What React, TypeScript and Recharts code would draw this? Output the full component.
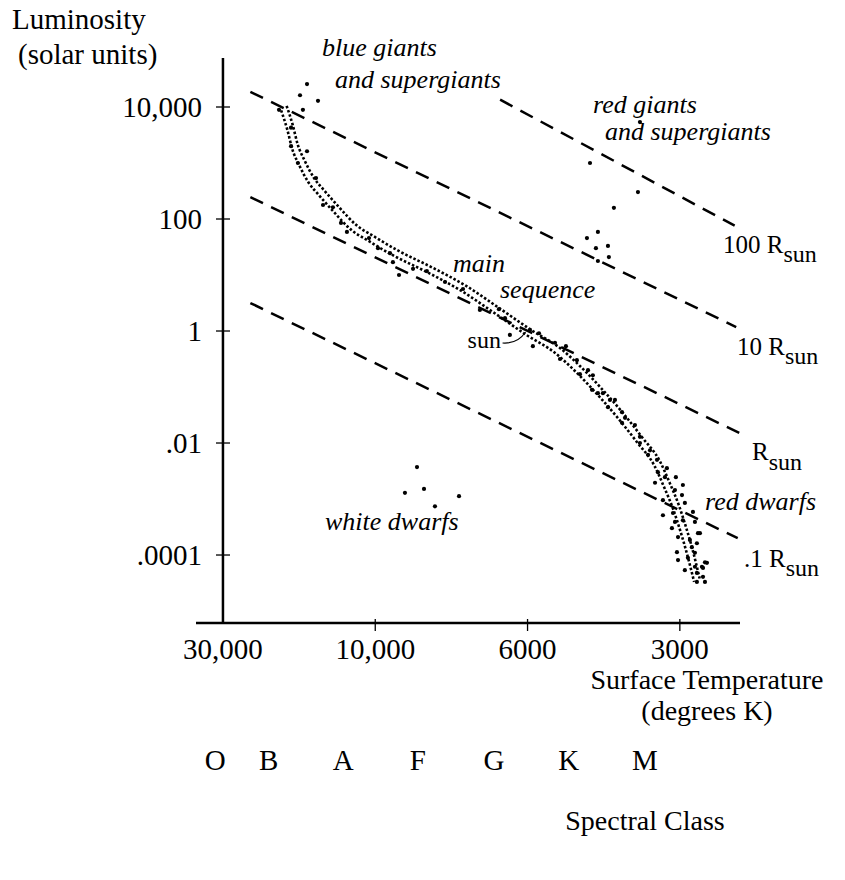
import React from 'react';
import {
  ComposedChart,
  XAxis,
  YAxis,
  Line,
  Scatter,
  ReferenceLine,
  ReferenceDot,
  Customized,
} from 'recharts';

const FONT = '"Liberation Serif", "Times New Roman", serif';

// x is the position on the temperature scale (0 = 30,000 K, 1 = 10,000 K, 2 = 6000 K, 3 = 3000 K)
// y is log10(luminosity in solar units)
const tempTicks = [0, 1, 2, 3];
const tempLabels = ['30,000', '10,000', '6000', '3000'];
const lumTicks = [-4, -2, 0, 2, 4];
const lumLabels = ['.0001', '.01', '1', '100', '10,000'];
const spectralClasses = ['O', 'B', 'A', 'F', 'G', 'K', 'M'];
const spectralPos = [-0.05, 0.3, 0.79, 1.28, 1.78, 2.27, 2.77];

const radius100 = [{ x: 1.82, y: 4.13 }, { x: 3.36, y: 1.88 }];
const radius10 = [{ x: 0.18, y: 4.27 }, { x: 3.37, y: 0.07 }];
const radius1 = [{ x: 0.18, y: 2.39 }, { x: 3.39, y: -1.82 }];
const radius01 = [{ x: 0.18, y: 0.5 }, { x: 3.38, y: -3.7 }];

const bandUpper = [
  { x: 0.418, y: 4.02 }, { x: 0.458, y: 3.68 }, { x: 0.491, y: 3.33 }, { x: 0.537, y: 3.04 },
  { x: 0.596, y: 2.74 }, { x: 0.668, y: 2.5 }, { x: 0.753, y: 2.24 }, { x: 0.872, y: 1.9 },
  { x: 1.003, y: 1.67 }, { x: 1.154, y: 1.43 }, { x: 1.377, y: 1.13 }, { x: 1.594, y: 0.81 },
  { x: 1.811, y: 0.415 }, { x: 2.034, y: 0.0 }, { x: 2.211, y: -0.3 }, { x: 2.342, y: -0.62 },
  { x: 2.48, y: -1.01 }, { x: 2.625, y: -1.46 }, { x: 2.756, y: -1.91 }, { x: 2.868, y: -2.32 },
  { x: 2.933, y: -2.71 }, { x: 2.992, y: -3.1 }, { x: 3.038, y: -3.48 }, { x: 3.084, y: -3.91 },
  { x: 3.13, y: -4.42 },
];
const bandLower = [
  { x: 0.382, y: 3.94 }, { x: 0.422, y: 3.6 }, { x: 0.455, y: 3.25 }, { x: 0.501, y: 2.96 },
  { x: 0.56, y: 2.66 }, { x: 0.632, y: 2.42 }, { x: 0.717, y: 2.16 }, { x: 0.836, y: 1.82 },
  { x: 0.967, y: 1.59 }, { x: 1.118, y: 1.35 }, { x: 1.341, y: 1.05 }, { x: 1.558, y: 0.73 },
  { x: 1.775, y: 0.335 }, { x: 1.998, y: -0.08 }, { x: 2.175, y: -0.38 }, { x: 2.306, y: -0.7 },
  { x: 2.444, y: -1.09 }, { x: 2.589, y: -1.54 }, { x: 2.72, y: -1.99 }, { x: 2.832, y: -2.4 },
  { x: 2.897, y: -2.79 }, { x: 2.956, y: -3.18 }, { x: 3.002, y: -3.56 }, { x: 3.048, y: -3.99 },
  { x: 3.094, y: -4.48 },
];

const blueGiants = [
  { x: 0.552, y: 4.41 }, { x: 0.506, y: 4.21 }, { x: 0.624, y: 4.11 }, { x: 0.525, y: 3.95 },
  { x: 0.368, y: 3.95 }, { x: 0.552, y: 3.21 },
];
const mainSequenceStars = [
  { x: 0.447, y: 3.63 }, { x: 0.447, y: 3.3 }, { x: 0.492, y: 3.0 }, { x: 0.611, y: 2.73 },
  { x: 0.657, y: 2.25 }, { x: 0.722, y: 2.21 }, { x: 0.775, y: 1.93 }, { x: 0.814, y: 1.77 },
  { x: 0.959, y: 1.66 }, { x: 1.018, y: 1.48 }, { x: 1.097, y: 1.39 }, { x: 1.116, y: 1.23 },
  { x: 1.156, y: 1.0 }, { x: 1.248, y: 1.11 }, { x: 1.339, y: 1.07 }, { x: 1.458, y: 0.875 },
  { x: 1.576, y: 0.75 }, { x: 1.687, y: 0.375 }, { x: 1.812, y: 0.39 }, { x: 1.852, y: 0.23 },
  { x: 1.884, y: -0.07 }, { x: 2.016, y: 0.02 }, { x: 2.035, y: -0.27 }, { x: 2.075, y: -0.04 },
  { x: 2.18, y: -0.21 }, { x: 2.252, y: -0.27 }, { x: 2.213, y: -0.5 }, { x: 2.324, y: -0.52 },
  { x: 2.397, y: -0.7 }, { x: 2.344, y: -0.77 }, { x: 2.429, y: -0.79 }, { x: 2.423, y: -1.05 },
  { x: 2.462, y: -1.11 },
];
const redGiants = [
  { x: 2.738, y: 3.73 }, { x: 2.41, y: 3.0 }, { x: 2.725, y: 2.48 }, { x: 2.567, y: 2.2 },
  { x: 2.39, y: 1.66 }, { x: 2.462, y: 1.77 }, { x: 2.449, y: 1.48 }, { x: 2.528, y: 1.52 },
  { x: 2.462, y: 1.25 }, { x: 2.534, y: 1.32 },
];
const redDwarfs = [
  { x: 2.495, y: -1.11 }, { x: 2.541, y: -1.23 }, { x: 2.574, y: -1.23 }, { x: 2.528, y: -1.36 },
  { x: 2.62, y: -1.45 }, { x: 2.64, y: -1.55 }, { x: 2.62, y: -1.64 }, { x: 2.705, y: -1.68 },
  { x: 2.738, y: -1.89 }, { x: 2.738, y: -2.0 }, { x: 2.804, y: -2.13 }, { x: 2.791, y: -2.21 },
  { x: 2.85, y: -2.3 }, { x: 2.856, y: -2.52 }, { x: 2.915, y: -2.45 }, { x: 2.837, y: -2.71 },
  { x: 2.902, y: -2.61 }, { x: 2.974, y: -2.61 }, { x: 3.02, y: -2.75 }, { x: 2.968, y: -2.84 },
  { x: 2.889, y: -3.29 }, { x: 2.955, y: -3.25 }, { x: 3.014, y: -2.93 }, { x: 3.033, y: -3.07 },
  { x: 3.086, y: -3.23 }, { x: 2.968, y: -3.41 }, { x: 3.02, y: -3.38 }, { x: 2.988, y: -3.68 },
  { x: 3.099, y: -3.41 }, { x: 3.119, y: -3.61 }, { x: 3.066, y: -3.73 }, { x: 2.981, y: -3.95 },
  { x: 3.079, y: -3.86 }, { x: 3.112, y: -3.79 }, { x: 2.988, y: -4.09 }, { x: 3.053, y: -4.05 },
  { x: 3.033, y: -4.27 }, { x: 3.099, y: -4.21 }, { x: 3.145, y: -4.21 }, { x: 3.165, y: -4.13 },
  { x: 3.112, y: -4.32 }, { x: 3.152, y: -4.39 }, { x: 3.165, y: -4.48 }, { x: 3.112, y: -4.48 },
  { x: 2.889, y: -3.02 }, { x: 2.948, y: -3.52 }, { x: 3.132, y: -3.61 }, { x: 3.178, y: -4.14 },
  { x: 3.152, y: -4.23 }, { x: 3.099, y: -3.96 },
];
const whiteDwarfs = [
  { x: 1.274, y: -2.43 }, { x: 1.195, y: -2.89 }, { x: 1.32, y: -2.82 }, { x: 1.55, y: -2.95 },
  { x: 1.392, y: -3.13 },
];
const sun = { x: 2.0, y: 0.0 };

const Dot = (p: any) => <circle cx={p.cx} cy={p.cy} r={2.1} fill="#000" />;

const XTick = (props: any) => {
  const { x, y, payload } = props;
  const i = tempTicks.indexOf(payload.value);
  return (
    <g>
      {i > 0 && <line x1={x} x2={x} y1={y - 4} y2={y + 8} stroke="#000" strokeWidth={1.3} />}
      <text x={x} y={y + 36} textAnchor="middle" fontFamily={FONT} fontSize={29} fill="#000">
        {tempLabels[i]}
      </text>
    </g>
  );
};

const SpecTick = (props: any) => {
  const { x, y, payload } = props;
  const i = spectralPos.indexOf(payload.value);
  return (
    <text x={x} y={y + 97} textAnchor="middle" fontFamily={FONT} fontSize={29} fill="#000">
      {spectralClasses[i]}
    </text>
  );
};

const YTick = (props: any) => {
  const { x, y, payload } = props;
  const i = lumTicks.indexOf(payload.value);
  return (
    <g>
      <line x1={x + 20} x2={x + 34} y1={y} y2={y} stroke="#000" strokeWidth={1.3} />
      <text x={x + 6} y={y + 10} textAnchor="end" fontFamily={FONT} fontSize={29} fill="#000">
        {lumLabels[i]}
      </text>
    </g>
  );
};

const SunMarker = (p: any) => {
  const { cx, cy } = p;
  return (
    <g>
      <path d={`M ${cx - 25} ${cy + 12} Q ${cx - 10} ${cy + 13} ${cx - 2} ${cy + 1}`} stroke="#000" strokeWidth={1.2} fill="none" />
      <text x={cx - 60} y={cy + 17} fontFamily={FONT} fontSize={24} fill="#000">sun</text>
    </g>
  );
};

const Annotations = () => (
  <g fontFamily={FONT} fill="#000">
    <text x={12} y={29} fontSize={29}>Luminosity</text>
    <text x={18} y={64} fontSize={29}>(solar units)</text>
    <text x={707} y={689} fontSize={28} textAnchor="middle">Surface Temperature</text>
    <text x={707} y={720} fontSize={28} textAnchor="middle">(degrees K)</text>
    <text x={645} y={830} fontSize={28} textAnchor="middle">Spectral Class</text>
    <g fontStyle="italic" fontSize={26}>
      <text x={322} y={56}>blue giants</text>
      <text x={335} y={88}>and supergiants</text>
      <text x={593} y={113}>red giants</text>
      <text x={605} y={140}>and supergiants</text>
      <text x={453} y={272}>main</text>
      <text x={500} y={298}>sequence</text>
      <text x={325} y={530}>white dwarfs</text>
      <text x={705} y={510}>red dwarfs</text>
    </g>
    <g fontSize={25}>
      <text x={723} y={253}>100 R<tspan dy={9} fontSize={24}>sun</tspan></text>
      <text x={737} y={355}>10 R<tspan dy={9} fontSize={24}>sun</tspan></text>
      <text x={752} y={460}>R<tspan dy={10} fontSize={24}>sun</tspan></text>
      <text x={744} y={567}>.1 R<tspan dy={9} fontSize={24}>sun</tspan></text>
    </g>
  </g>
);

const dashed = { stroke: '#000', strokeWidth: 2.5, strokeDasharray: '14 9' };
const dotted = { stroke: '#000', strokeWidth: 2.6, strokeDasharray: '2.5 2' };

export default function App() {
  return (
    <div style={{ position: 'absolute', left: 0, top: 0, background: '#fff' }}>
      <ComposedChart
        width={845}
        height={880}
        margin={{ top: 58, right: 105, bottom: 107, left: 136 }}
      >
        <XAxis
          xAxisId="z"
          type="number"
          dataKey="x"
          domain={[-0.177, 3.395]}
          ticks={spectralPos}
          interval={0}
          allowDataOverflow
          height={100}
          tickSize={0}
          tickMargin={0}
          tickLine={false}
          axisLine={false}
          tick={<SpecTick />}
        />
        <XAxis
          xAxisId="a"
          type="number"
          dataKey="x"
          domain={[-0.177, 3.395]}
          ticks={tempTicks}
          interval={0}
          allowDataOverflow
          height={50}
          tickSize={0}
          tickMargin={0}
          tickLine={false}
          axisLine={{ stroke: '#000', strokeWidth: 2.5 }}
          tick={<XTick />}
        />
        <YAxis
          type="number"
          dataKey="y"
          domain={[-5.214, 4.875]}
          ticks={lumTicks}
          interval={0}
          allowDataOverflow
          width={60}
          tickSize={0}
          tickMargin={0}
          tickLine={false}
          axisLine={false}
          tick={<YTick />}
        />
        <ReferenceLine xAxisId="a" x={0} stroke="#000" strokeWidth={2.5} />
        <Line xAxisId="a" data={radius100} dataKey="y" type="linear" {...dashed} dot={false} isAnimationActive={false} />
        <Line xAxisId="a" data={radius10} dataKey="y" type="linear" {...dashed} dot={false} isAnimationActive={false} />
        <Line xAxisId="a" data={radius1} dataKey="y" type="linear" {...dashed} dot={false} isAnimationActive={false} />
        <Line xAxisId="a" data={radius01} dataKey="y" type="linear" {...dashed} dot={false} isAnimationActive={false} />
        <Line xAxisId="a" data={bandUpper} dataKey="y" type="monotone" {...dotted} dot={false} isAnimationActive={false} />
        <Line xAxisId="a" data={bandLower} dataKey="y" type="monotone" {...dotted} dot={false} isAnimationActive={false} />
        <Scatter xAxisId="a" data={blueGiants} dataKey="y" shape={Dot} isAnimationActive={false} />
        <Scatter xAxisId="a" data={mainSequenceStars} dataKey="y" shape={Dot} isAnimationActive={false} />
        <Scatter xAxisId="a" data={redGiants} dataKey="y" shape={Dot} isAnimationActive={false} />
        <Scatter xAxisId="a" data={redDwarfs} dataKey="y" shape={Dot} isAnimationActive={false} />
        <Scatter xAxisId="a" data={whiteDwarfs} dataKey="y" shape={Dot} isAnimationActive={false} />
        <ReferenceDot xAxisId="a" x={sun.x} y={sun.y} r={0} shape={SunMarker} />
        <Customized component={Annotations} />
      </ComposedChart>
    </div>
  );
}
